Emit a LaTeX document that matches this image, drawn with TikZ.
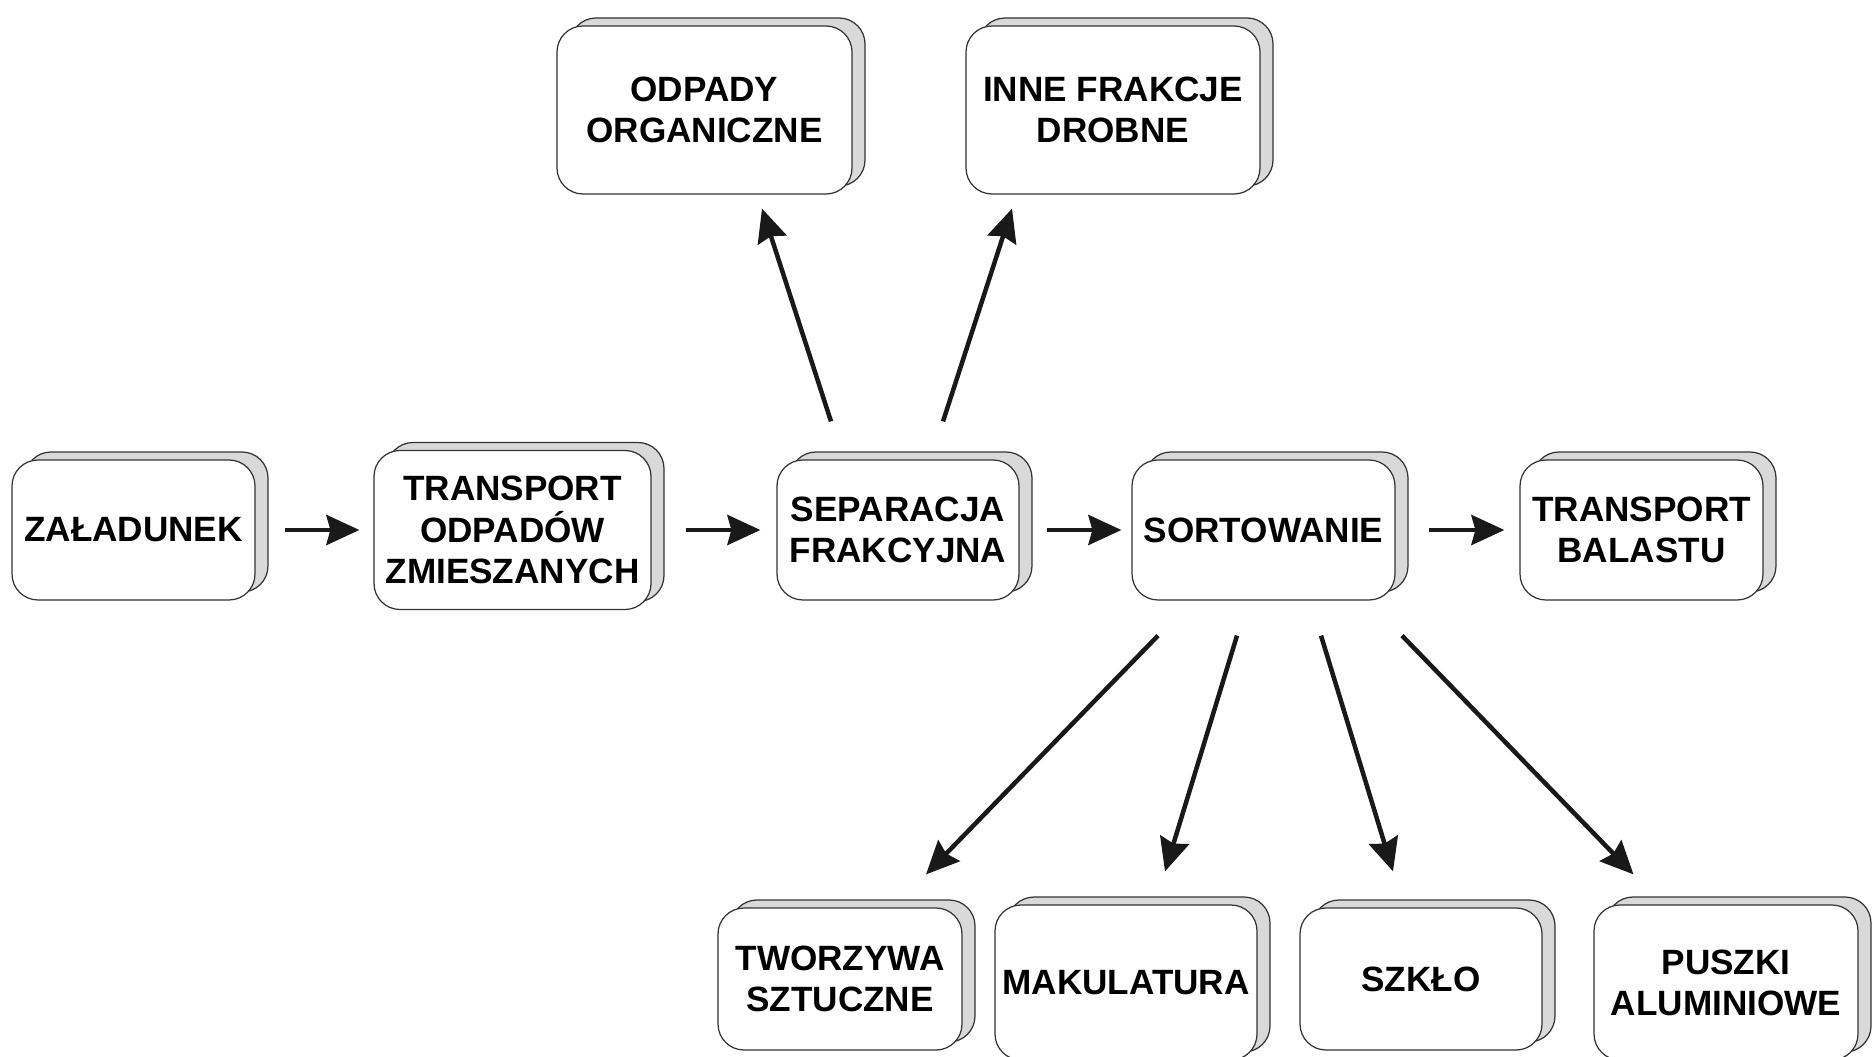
\documentclass[tikz,border=0pt]{standalone}
\usepackage{fontspec}
\setmainfont{Liberation Sans}
\usetikzlibrary{arrows.meta,shadows}

\tikzset{
  etap/.style={draw=black!80, line width=0.35pt, fill=white, rounded corners=0.26cm,
    inner sep=0pt, align=center, font=\fontsize{10}{11.7}\selectfont\bfseries,
    copy shadow={shadow xshift=0.13cm, shadow yshift=0.08cm, fill=black!15, draw=black!80, line width=0.35pt}},
  strz/.style={draw=black!90, line width=0.045cm, -{Stealth[length=0.33cm, width=0.30cm, inset=0.04cm]}}
}

\begin{document}
\begin{tikzpicture}
  \useasboundingbox (0,0) rectangle (18.74,10.56);

  % ciag glowny
  \node[etap, minimum width=2.43cm, minimum height=1.40cm] (zal) at (1.335,5.26) {ZAŁADUNEK};
  \node[etap, minimum width=2.77cm, minimum height=1.59cm] (trans) at (5.125,5.26) {TRANSPORT\\ODPADÓW\\ZMIESZANYCH};
  \node[etap, minimum width=2.42cm, minimum height=1.40cm] (sep) at (8.98,5.26) {SEPARACJA\\FRAKCYJNA};
  \node[etap, minimum width=2.63cm, minimum height=1.40cm] (sort) at (12.635,5.26) {SORTOWANIE};
  \node[etap, minimum width=2.43cm, minimum height=1.40cm] (bal) at (16.415,5.26) {TRANSPORT\\BALASTU};

  % frakcje z separacji
  \node[etap, minimum width=2.95cm, minimum height=1.68cm] (org) at (7.045,9.46) {ODPADY\\ORGANICZNE};
  \node[etap, minimum width=2.94cm, minimum height=1.68cm] (inne) at (11.13,9.46) {INNE FRAKCJE\\DROBNE};

  % surowce z sortowania
  \node[etap, minimum width=2.44cm, minimum height=1.42cm] (tw) at (8.40,0.77) {TWORZYWA\\SZTUCZNE};
  \node[etap, minimum width=2.62cm, minimum height=1.55cm] (mak) at (11.26,0.735) {MAKULATURA};
  \node[etap, minimum width=2.42cm, minimum height=1.42cm] (szk) at (14.21,0.77) {SZKŁO};
  \node[etap, minimum width=2.64cm, minimum height=1.55cm] (pus) at (17.26,0.735) {PUSZKI\\ALUMINIOWE};

  % strzalki poziome
  \draw[strz, shorten <=0.29cm, shorten >=0.14cm] (zal) -- (trans);
  \draw[strz, shorten <=0.34cm, shorten >=0.16cm] (trans) -- (sep);
  \draw[strz, shorten <=0.27cm, shorten >=0.10cm] (sep) -- (sort);
  \draw[strz, shorten <=0.33cm, shorten >=0.15cm] (sort) -- (bal);

  % strzalki ukosne
  \draw[strz] ([shift={(-0.67,0.38)}]sep.north) -- ([shift={(0.575,-0.14)}]org.south);
  \draw[strz] ([shift={(0.45,0.38)}]sep.north) -- ([shift={(-1.01,-0.14)}]inne.south);
  \draw[strz] ([shift={(-1.055,-0.35)}]sort.south) -- ([shift={(0.86,0.33)}]tw.north);
  \draw[strz] ([shift={(-0.265,-0.35)}]sort.south) -- ([shift={(0.39,0.33)}]mak.north);
  \draw[strz] ([shift={(0.575,-0.35)}]sort.south) -- ([shift={(-0.28,0.36)}]szk.north);
  \draw[strz] ([shift={(1.385,-0.35)}]sort.south) -- ([shift={(-0.925,0.30)}]pus.north);
\end{tikzpicture}
\end{document}
